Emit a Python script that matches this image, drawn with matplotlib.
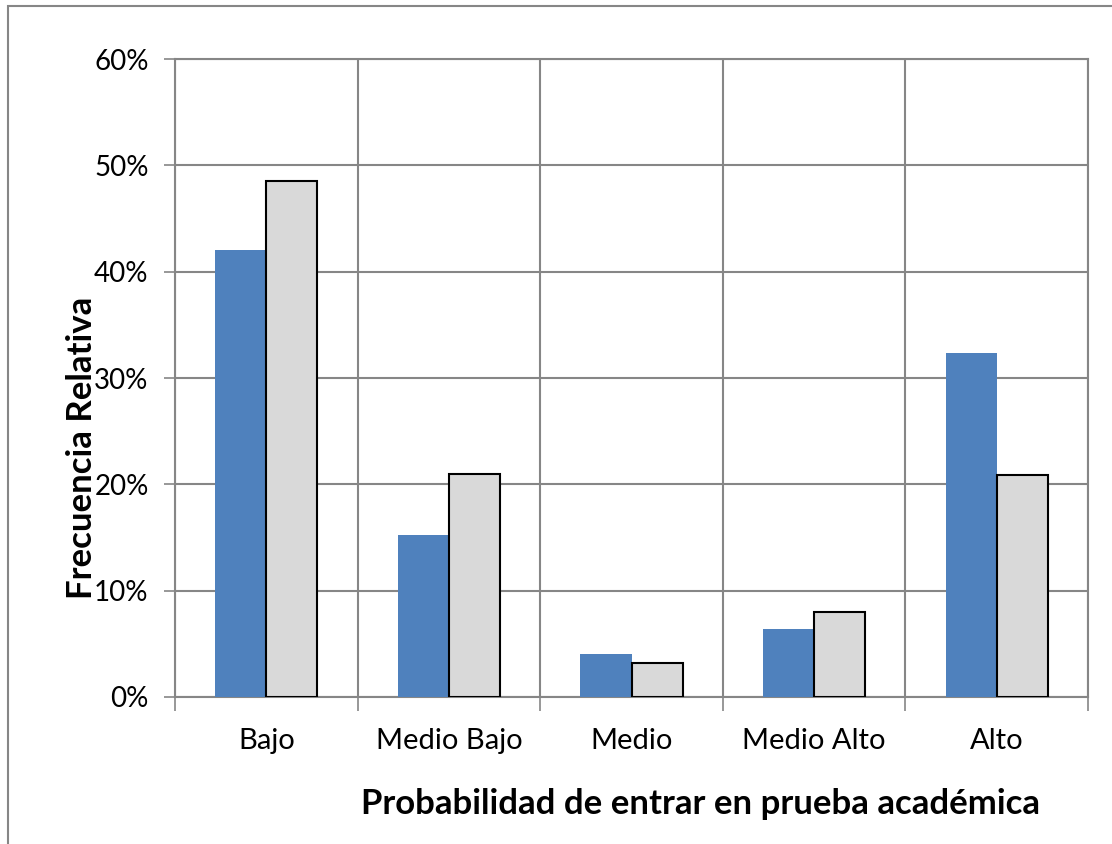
import numpy as np
import matplotlib
matplotlib.use('Agg')
import matplotlib.pyplot as plt
from matplotlib.patches import Rectangle
from matplotlib.ticker import PercentFormatter, FixedLocator, NullFormatter

# categorias y frecuencias relativas (%)
categorias = ['Bajo', 'Medio Bajo', 'Medio', 'Medio Alto', 'Alto']
serie_azul = [42.0, 15.2, 4.0, 6.4, 32.4]
serie_gris = [48.5, 21.0, 3.2, 8.0, 20.9]

plt.rcParams['font.family'] = ['Lato', 'DejaVu Sans']

gris_eje = '#868686'

fig = plt.figure(figsize=(11.12, 8.44), dpi=100)
ax = fig.add_axes([0.1574, 0.1742, 0.8210, 0.7558])

# marco exterior del grafico
fig.patches.append(Rectangle((8/1112, -0.05), 1.2, 1 - 6/844 + 0.05,
                             transform=fig.transFigure, fill=False,
                             edgecolor=gris_eje, linewidth=1.5, zorder=0))

x = np.arange(len(categorias))
ancho = 0.28
ax.bar(x - ancho/2, serie_azul, ancho, color='#4F81BD', zorder=3)
ax.bar(x + ancho/2, serie_gris, ancho, color='#D9D9D9',
       edgecolor='black', linewidth=1.5, zorder=3)

ax.set_xlim(-0.5, len(categorias) - 0.5)
ax.set_ylim(0, 60)
ax.set_yticks(np.arange(0, 61, 10))
ax.yaxis.set_major_formatter(PercentFormatter(decimals=0))

# lineas de division entre categorias
ax.xaxis.set_major_locator(FixedLocator(np.arange(-0.5, len(categorias), 1)))
ax.xaxis.set_major_formatter(NullFormatter())
ax.set_xticks(x, minor=True)
ax.set_xticklabels(categorias, minor=True)
ax.tick_params(axis='x', which='minor', length=0, pad=22, labelsize=21)
ax.tick_params(axis='x', which='major', length=10, width=1.2, color=gris_eje, direction='out')
ax.tick_params(axis='y', length=8, width=1.2, color=gris_eje, pad=11, labelsize=20)

ax.grid(True, which='major', color=gris_eje, linewidth=1.5, zorder=0)
ax.set_axisbelow(True)
for lado in ax.spines.values():
    lado.set_color(gris_eje)
    lado.set_linewidth(1.5)

ax.set_ylabel('Frecuencia Relativa', fontsize=25, fontweight='bold', labelpad=-3)
ax.set_xlabel('Probabilidad de entrar en prueba académica', fontsize=25,
              fontweight='bold', labelpad=25)
ax.xaxis.label.set_x(0.576)
ax.yaxis.label.set_y(0.39)

fig.savefig('out.png', dpi=100)
